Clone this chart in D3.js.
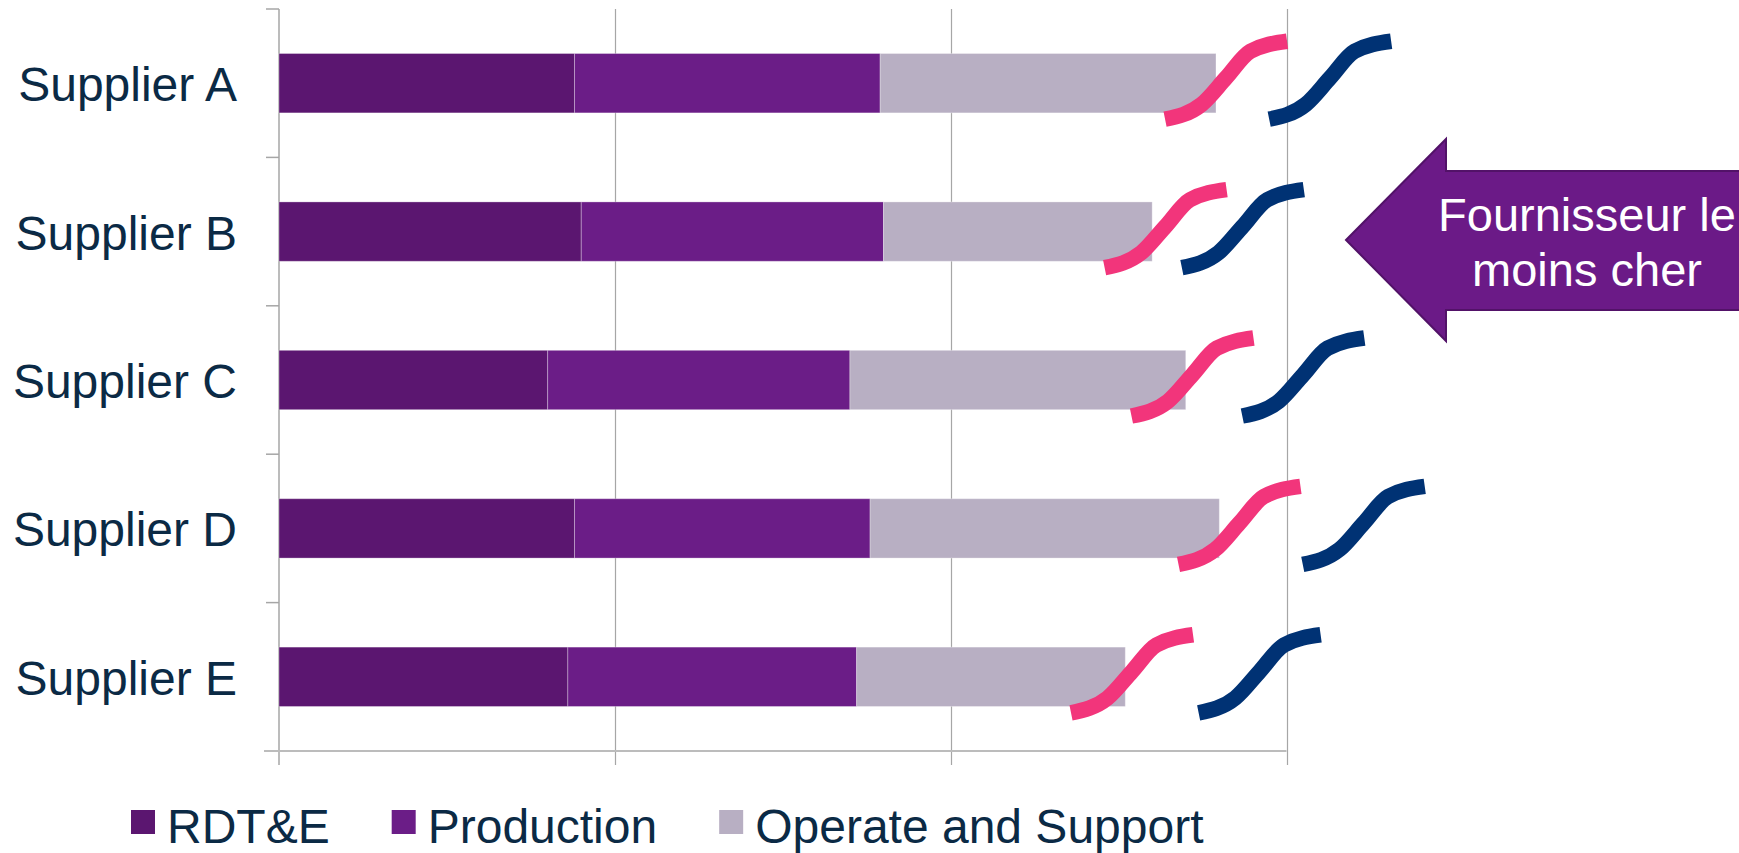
<!DOCTYPE html>
<html>
<head>
<meta charset="utf-8">
<script src="https://cdn.jsdelivr.net/npm/d3@7"></script>
<style>
  html, body { margin: 0; padding: 0; background: #ffffff; overflow: hidden; }
  svg { display: block; }
  text { font-family: "Liberation Sans", Arial, Helvetica, sans-serif; }
</style>
</head>
<body>
<svg id="chart" width="1739" height="853"></svg>
<script>
// Life-cycle cost per supplier, split by phase
const suppliers = ["Supplier A", "Supplier B", "Supplier C", "Supplier D", "Supplier E"];
const seriesNames = ["RDT&E", "Production", "Operate and Support"];
const rdte = [88, 90, 80, 88, 86];
const production = [91, 90, 90, 88, 86];
const operateSupport = [100, 80, 100, 104, 80];

// Axis-break markers drawn after each bar (value positions along the cost axis)
const breakNear = [282, 264, 272, 286, 254];
const breakFar = [313, 287, 305, 323, 292];

const xTicks = [0, 100, 200, 300];
const calloutLines = ["Fournisseur le", "moins cher"];

const seriesColors = ["#5b1670", "#6b1d87", "#b8afc3"];
const textColor = "#0b2a45";
const gridColor = "#a6a6a6";

const svg = d3.select("#chart");

const rows = suppliers.map((s, i) => ({
  supplier: s,
  [seriesNames[0]]: rdte[i],
  [seriesNames[1]]: production[i],
  [seriesNames[2]]: operateSupport[i]
}));
const stacked = d3.stack().keys(seriesNames)(rows);

const x = d3.scaleLinear().domain([0, 300]).range([279, 1286.5]);
const y = d3.scaleBand().domain(suppliers).range([9, 751])
  .paddingInner(0.6).paddingOuter(0.3);

const plotTop = 9, plotBottom = 751;

// vertical gridlines (with tick stubs below the baseline)
svg.append("g")
  .selectAll("line")
  .data(xTicks.slice(1))
  .join("line")
  .attr("x1", d => Math.round(x(d)) + 0.5)
  .attr("x2", d => Math.round(x(d)) + 0.5)
  .attr("y1", plotTop)
  .attr("y2", plotBottom + 14)
  .attr("stroke", gridColor)
  .attr("stroke-width", 1.2);

// category axis with tick marks at band boundaries
const bandEdges = d3.range(suppliers.length + 1).map(i => plotTop + i * y.step());
svg.append("g")
  .selectAll("line")
  .data(bandEdges.slice(0, -1))
  .join("line")
  .attr("x1", x(0) - 13)
  .attr("x2", x(0))
  .attr("y1", d => d)
  .attr("y2", d => d)
  .attr("stroke", gridColor)
  .attr("stroke-width", 1.5);

svg.append("line")
  .attr("x1", x(0)).attr("x2", x(0))
  .attr("y1", plotTop).attr("y2", plotBottom + 14)
  .attr("stroke", gridColor).attr("stroke-width", 1.5);

// value axis baseline
svg.append("line")
  .attr("x1", x(0) - 15).attr("x2", x(300))
  .attr("y1", plotBottom).attr("y2", plotBottom)
  .attr("stroke", "#bcbcbc").attr("stroke-width", 2.2);

// stacked bars
svg.append("g")
  .selectAll("g")
  .data(stacked)
  .join("g")
  .attr("fill", (d, i) => seriesColors[i])
  .selectAll("rect")
  .data(d => d)
  .join("rect")
  .attr("x", d => x(d[0]))
  .attr("y", d => y(d.data.supplier))
  .attr("width", d => x(d[1]) - x(d[0]))
  .attr("height", y.bandwidth())
  .attr("stroke", "#ffffff")
  .attr("stroke-opacity", 0.3)
  .attr("stroke-width", 1);

// category labels
svg.append("g")
  .selectAll("text")
  .data(suppliers)
  .join("text")
  .attr("x", 237)
  .attr("y", d => y(d) + y.bandwidth() / 2 + 18)
  .attr("text-anchor", "end")
  .attr("font-size", 48)
  .attr("fill", textColor)
  .text(d => d);

// S-shaped break markers
const sW = 122, sH = 78;
const sShape = [[0, 1], [0.3, 0.81], [0.5, 0.47], [0.7, 0.13], [1, 0]];
const sLine = d3.line().curve(d3.curveMonotoneX);
function sPath(cx, cy) {
  return sLine(sShape.map(([u, v]) => [cx - sW / 2 + u * sW, cy - sH / 2 + v * sH]));
}
const breakSets = [
  { values: breakNear, color: "#f2357b" },
  { values: breakFar, color: "#003274" }
];
breakSets.forEach(set => {
  svg.append("g")
    .selectAll("path")
    .data(suppliers)
    .join("path")
    .attr("d", (s, i) => sPath(x(set.values[i]), y(s) + y.bandwidth() / 2 - 3))
    .attr("fill", "none")
    .attr("stroke", set.color)
    .attr("stroke-width", 15.5)
    .attr("stroke-linecap", "butt");
});

// callout arrow
const arrow = svg.append("g");
const tipX = 1346, tipY = 240, headX = 1446, headTop = 139, headBot = 341;
const shaftTop = 171, shaftBot = 310, shaftEnd = 1760;
arrow.append("path")
  .attr("d", `M${tipX},${tipY} L${headX},${headTop} L${headX},${shaftTop} L${shaftEnd},${shaftTop} ` +
             `L${shaftEnd},${shaftBot} L${headX},${shaftBot} L${headX},${headBot} Z`)
  .attr("fill", "#6b1a87")
  .attr("stroke", "#521268")
  .attr("stroke-width", 2)
  .attr("stroke-linejoin", "miter");
arrow.append("g")
  .selectAll("text")
  .data(calloutLines)
  .join("text")
  .attr("x", 1587)
  .attr("y", (d, i) => 231 + i * 55)
  .attr("text-anchor", "middle")
  .attr("font-size", 47)
  .attr("fill", "#ffffff")
  .text(d => d);

// legend
const legend = svg.append("g");
let lx = 131;
seriesNames.forEach((name, i) => {
  legend.append("rect")
    .attr("x", lx).attr("y", 810)
    .attr("width", 24).attr("height", 24)
    .attr("fill", seriesColors[i]);
  const t = legend.append("text")
    .attr("x", lx + 36).attr("y", 843)
    .attr("font-size", 48)
    .attr("fill", textColor)
    .text(name);
  lx = lx + 36 + t.node().getComputedTextLength() + 62;
});
</script>
</body>
</html>
